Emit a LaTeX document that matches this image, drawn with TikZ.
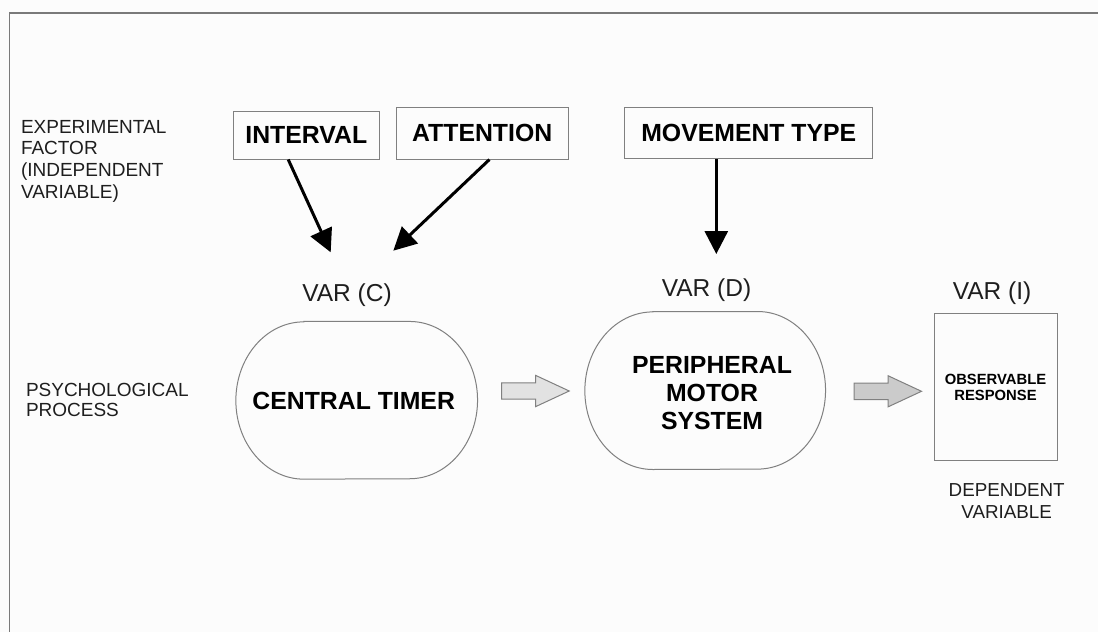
\documentclass[tikz,border=0pt]{standalone}
\usepackage{fontspec}
\setmainfont{Liberation Sans}
\usetikzlibrary{arrows.meta,calc}

\definecolor{paper}{HTML}{FCFCFC}
\definecolor{edgegray}{HTML}{808080}
\definecolor{framegray}{HTML}{7A7A7A}
\definecolor{ink}{HTML}{1E1E1E}
\definecolor{flowlight}{HTML}{E2E2E2}
\definecolor{flowdark}{HTML}{CBCBCB}

% stadium outline around a named node: #1 node, #2 corner x radius, #3 corner y radius (pt)
\newcommand\ovaloutline[3]{%
  \draw[ovalline] ($(#1.north west)+(#2,0)$) -- ($(#1.north east)+(-#2,0)$)
    arc[start angle=90,end angle=-90,x radius=#2pt,y radius=#3pt]
    -- ($(#1.south west)+(#2,0)$)
    arc[start angle=270,end angle=90,x radius=#2pt,y radius=#3pt] -- cycle;}

\begin{document}
\begin{tikzpicture}[x=1pt,y=-1pt,
  factorbox/.style={draw=edgegray,line width=1pt,inner sep=0pt,
    font=\fontsize{24.8}{28}\selectfont\bfseries,text=black},
  procbox/.style={inner sep=0pt,font=\fontsize{24.8}{28.3}\selectfont\bfseries,
    text=black,align=center},
  ovalline/.style={draw=edgegray,line width=1pt},
  varlabel/.style={inner sep=0pt,anchor=base,font=\fontsize{24.5}{28}\selectfont,text=ink},
  sidelabel/.style={inner sep=0pt,anchor=north west,align=left,text=ink},
  factorarrow/.style={line width=3pt,black,-{Triangle[length=23pt,width=23pt]}},
  flowedge/.style={draw=edgegray,line width=1pt,line join=miter},
  pics/flowarrow/.style={code={
    \draw[flowedge,fill=#1] (0,-8.2) -- (34,-8.2) -- (34,-15.6) -- (67.5,0)
      -- (34,15.6) -- (34,8.2) -- (0,8.2) -- cycle;}}
]
% page and frame
\fill[paper] (0,0) rectangle (1098,632);
\useasboundingbox (0,0) rectangle (1098,632);
\draw[framegray,line width=1.2pt] (1098,13) -- (9.3,13) -- (9.3,632);

% row labels
\node[sidelabel,font=\fontsize{19}{21.7}\selectfont] (expfactor) at (20.8,120)
  {EXPERIMENTAL\\FACTOR\\(INDEPENDENT\\VARIABLE)};
\node[sidelabel,font=\fontsize{19}{20}\selectfont] (psyproc) at (25.8,382.7)
  {PSYCHOLOGICAL\\PROCESS};

% experimental factors
\node[factorbox,minimum width=146pt,minimum height=48pt] (iv) at (306.3,135) {INTERVAL};
\node[factorbox,minimum width=172.3pt,minimum height=51.7pt] (att) at (482.2,133.2) {ATTENTION};
\node[factorbox,minimum width=248.3pt,minimum height=51.3pt] (mt) at (748.8,133.3) {MOVEMENT TYPE};

% arrows from the factors
\coordinate (ivTip) at (330.7,252.3);
\coordinate (attTip) at (393.3,250.7);
\coordinate (mtTip) at (716.3,254);
\draw[factorarrow] ($(iv.south west)!0.377!(iv.south east)$) -- (ivTip);
\draw[factorarrow] ($(att.south west)!0.5415!(att.south east)$) -- (attTip);
\draw[factorarrow] (mt.south -| mtTip) -- (mtTip);

% variance labels
\node[varlabel] (varc) at (347,301) {VAR (C)};
\node[varlabel] (vard) at (706.5,296) {VAR (D)};
\node[varlabel] (vari) at (992,299) {VAR (I)};

% psychological processes
\node[inner sep=0pt,minimum width=241.3pt,minimum height=157.3pt] (ct) at (356.7,400.3) {};
\ovaloutline{ct}{68}{78.65}
\node[procbox] (cttext) at (353.7,400.8) {CENTRAL TIMER};

\node[inner sep=0pt,minimum width=240.3pt,minimum height=157.6pt] (pms) at (705.2,390.5) {};
\ovaloutline{pms}{68}{78.8}
\node[procbox,anchor=north] (pmstext) at (712,356) {PERIPHERAL\\MOTOR\\SYSTEM};

% observable response
\node[draw=edgegray,line width=1pt,inner sep=0pt,minimum width=123pt,minimum height=146.7pt,
  align=center,font=\fontsize{14.8}{16.7}\selectfont\bfseries,text=black]
  (resp) at (995.5,387.3) {OBSERVABLE\\RESPONSE};
\node[inner sep=0pt,anchor=north,align=center,font=\fontsize{18.8}{21.6}\selectfont,text=ink]
  (depvar) at (1006.7,483.3) {DEPENDENT\\VARIABLE};

% flow between stages
\pic at (501.7,391) {flowarrow=flowlight};
\pic at (854,391.3) {flowarrow=flowdark};
\end{tikzpicture}
\end{document}
